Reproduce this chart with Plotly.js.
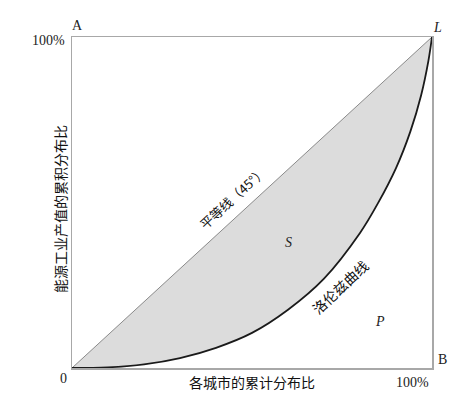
<!DOCTYPE html>
<html>
<head>
<meta charset="utf-8">
<script src="https://cdn.plot.ly/plotly-3.0.1.min.js"></script>
<style>html,body{margin:0;padding:0;background:#fff;}#chart{width:467px;height:406px;}</style>
</head>
<body>
<div id="chart"></div>
<script>
// Lorenz curve: cumulative share of cities (%) vs cumulative share of energy industry output (%)
const cityShare = [0, 10, 20, 30, 40, 50, 60, 70, 80, 85, 90, 94, 97, 99, 100];
const outputShare = [0, 0.2, 1.1, 3.0, 6.1, 10.6, 17.6, 27.0, 40.8, 49.8, 60.4, 71.5, 82.5, 92.8, 100];
const equalityX = [0, 100];
const equalityY = [0, 100];

const W = 467, H = 406, L = 72, R = 432, T = 37, B = 368;
const px = x => (x - L) / (R - L);
const py = y => (B - y) / (B - T);

const serif = "Liberation Serif, 'Noto Sans CJK SC', serif";
const cjk = "'Noto Sans CJK SC', sans-serif";

const traces = [
  {x: cityShare, y: outputShare, type: 'scatter', mode: 'lines', fill: 'toself',
   fillcolor: '#dcdcdc', line: {color: 'rgba(0,0,0,0)', width: 0, shape: 'spline'}, hoverinfo: 'skip'},
  {x: equalityX, y: equalityY, type: 'scatter', mode: 'lines',
   line: {color: '#8a8a8a', width: 1}, hoverinfo: 'skip'},
  {x: cityShare, y: outputShare, type: 'scatter', mode: 'lines',
   line: {color: '#1a1a1a', width: 1.8, shape: 'spline'}, hoverinfo: 'skip'}
];

function ann(text, x, y, opts) {
  return Object.assign({text: text, x: px(x), y: py(y), xref: 'paper', yref: 'paper',
    showarrow: false, xanchor: 'center', yanchor: 'middle',
    font: {family: serif, size: 14, color: '#222'}}, opts || {});
}

const layout = {
  width: W, height: H,
  margin: {l: L, r: W - R, t: T, b: H - B, pad: 0},
  paper_bgcolor: '#fff', plot_bgcolor: '#fff',
  showlegend: false,
  xaxis: {range: [0, 100], showgrid: false, zeroline: false, showticklabels: false, ticks: '',
          showline: true, mirror: true, linecolor: '#a8a8a8', linewidth: 1.5, fixedrange: true},
  yaxis: {range: [0, 100], showgrid: false, zeroline: false, showticklabels: false, ticks: '',
          showline: true, mirror: true, linecolor: '#a8a8a8', linewidth: 1.5, fixedrange: true},
  annotations: [
    ann('A', 77, 26),
    ann('<i>L</i>', 437, 27),
    ann('B', 443, 359),
    ann('0', 63, 378),
    ann('100%', 67, 40, {xanchor: 'right'}),
    ann('100%', 412, 382),
    ann('各城市的累计分布比', 252, 382, {font: {family: cjk, size: 14, color: '#111'}}),
    ann('能源工业产值的累积分布比', 60, 209, {textangle: -90, font: {family: cjk, size: 14, color: '#111'}}),
    ann('平等线（45°）', 233, 198, {textangle: -42.6, font: {family: cjk, size: 13, color: '#111'}}),
    ann('洛伦兹曲线', 340, 287, {textangle: -43, font: {family: cjk, size: 14, color: '#111'}}),
    ann('<i>S</i>', 288, 242),
    ann('<i>P</i>', 380, 321)
  ]
};

Plotly.newPlot('chart', traces, layout, {staticPlot: true, displayModeBar: false});
</script>
</body>
</html>
